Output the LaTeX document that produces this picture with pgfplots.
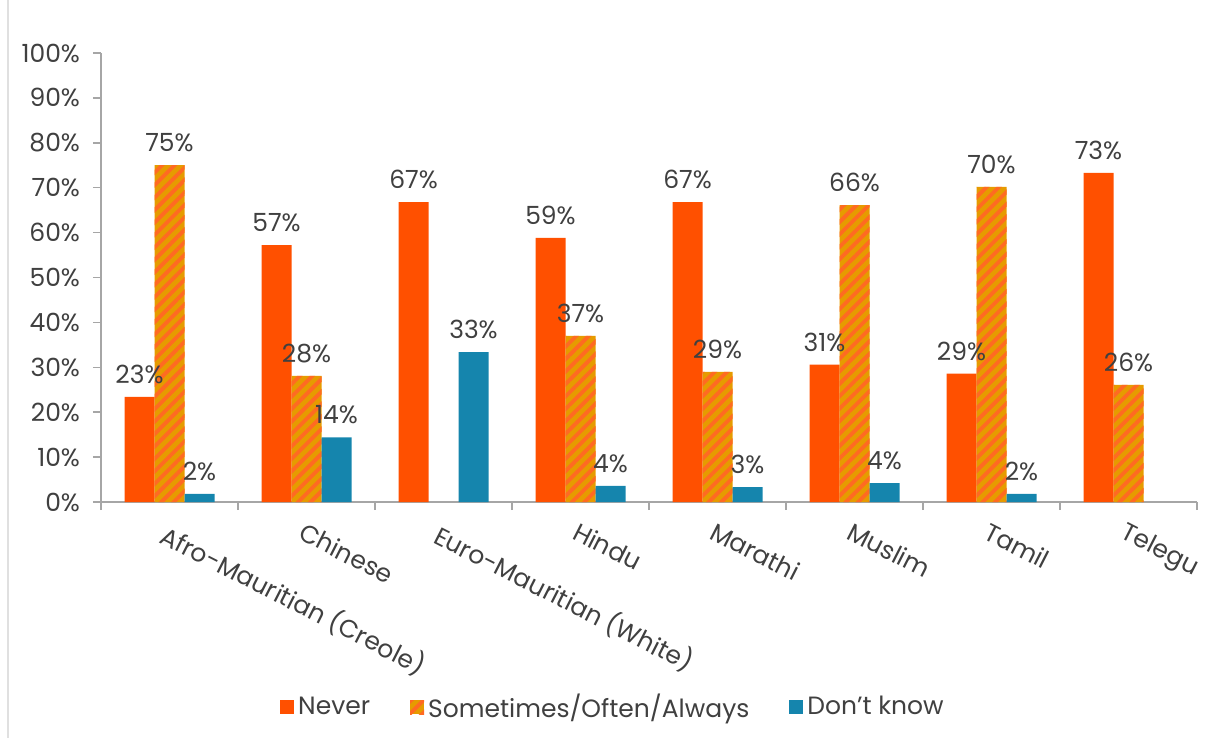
\documentclass[border=0pt]{standalone}
\usepackage{pgfplots}
\pgfplotsset{compat=1.18}
\usepackage{pgfplotstable}
\usetikzlibrary{patterns.meta}
\usepackage{fontspec}
\setmainfont{Poppins}

\definecolor{nevercol}{HTML}{FF5000}
\definecolor{hatchbg}{HTML}{E69B00}
\definecolor{hatchfg}{HTML}{FF6A22}
\definecolor{dkcol}{HTML}{1585AD}
\definecolor{textcol}{HTML}{404040}
\definecolor{axisgray}{HTML}{A6A6A6}

% group index, value in percent
\pgfplotstableread{
x y
0 23.4
1 57.2
2 66.8
3 58.8
4 66.8
5 30.6
6 28.6
7 73.3
}\never
\pgfplotstableread{
x y
0 75.0
1 28.1
3 37.0
4 29.0
5 66.1
6 70.2
7 26.1
}\sometimes
\pgfplotstableread{
x y
0 1.8
1 14.4
2 33.4
3 3.6
4 3.3
5 4.2
6 1.8
}\dontknow

\begin{document}
\begin{tikzpicture}
\path[use as bounding box] (-50.5pt,-118pt) rectangle (553.5pt,251pt);
\draw[black!12, line width=1pt] (-46.5pt,-118pt) -- (-46.5pt,251pt);
\begin{axis}[
    at={(0pt,0pt)}, anchor=south west,
    scale only axis, width=548pt, height=224.5pt,
    xmin=-0.5, xmax=7.5, ymin=0, ymax=100,
    ybar=0pt, bar width=15pt,
    axis x line*=bottom, axis y line*=left,
    axis line style={draw=axisgray, line width=0.8pt},
    tick style={draw=axisgray, line width=0.8pt},
    major tick length=4pt,
    xtick align=outside, ytick align=outside,
    /pgf/number format/assume math mode=true,
    font=\fontsize{12.5}{15}\selectfont,
    tick label style={text=textcol},
    ytick={0,10,...,100},
    yticklabels={0\%,10\%,20\%,30\%,40\%,50\%,60\%,70\%,80\%,90\%,100\%},
    yticklabel style={xshift=-3pt},
    xtick={-0.5,0.5,...,7.5},
    x tick label as interval,
    xticklabels={Afro-Mauritian (Creole),Chinese,Euro-Mauritian (White),Hindu,Marathi,Muslim,Tamil,Telegu},
    xticklabel style={rotate=-27, anchor=north west, inner sep=1pt, yshift=-4pt, xshift=1pt},
    nodes near coords={\pgfmathprintnumber[fixed,precision=0]{\pgfplotspointmeta}\%},
    every node near coord/.append style={text=textcol, anchor=south, yshift=3pt,
        font=\fontsize{12.5}{15}\selectfont},
    legend columns=3,
    legend style={draw=none, fill=none, at={(0.468,-0.4566)}, anchor=center,
        text=textcol, font=\fontsize{12.5}{15}\selectfont,
        /tikz/every even column/.append style={column sep=18pt}},
    legend image code/.code={\fill[#1] (0pt,-3.5pt) rectangle (7pt,3.5pt);},
]
\addplot[fill=nevercol, draw=none] table[x=x,y=y]{\never};
\addlegendentry{Never}
\addplot[fill=hatchbg, draw=none,
    postaction={pattern={Lines[angle=45,distance=4.4pt,line width=1.9pt]}, pattern color=hatchfg}]
    table[x=x,y=y]{\sometimes};
\addlegendentry{Sometimes/Often/Always}
\addplot[fill=dkcol, draw=none] table[x=x,y=y]{\dontknow};
\addlegendentry{Don’t know}
\end{axis}
\end{tikzpicture}
\end{document}
